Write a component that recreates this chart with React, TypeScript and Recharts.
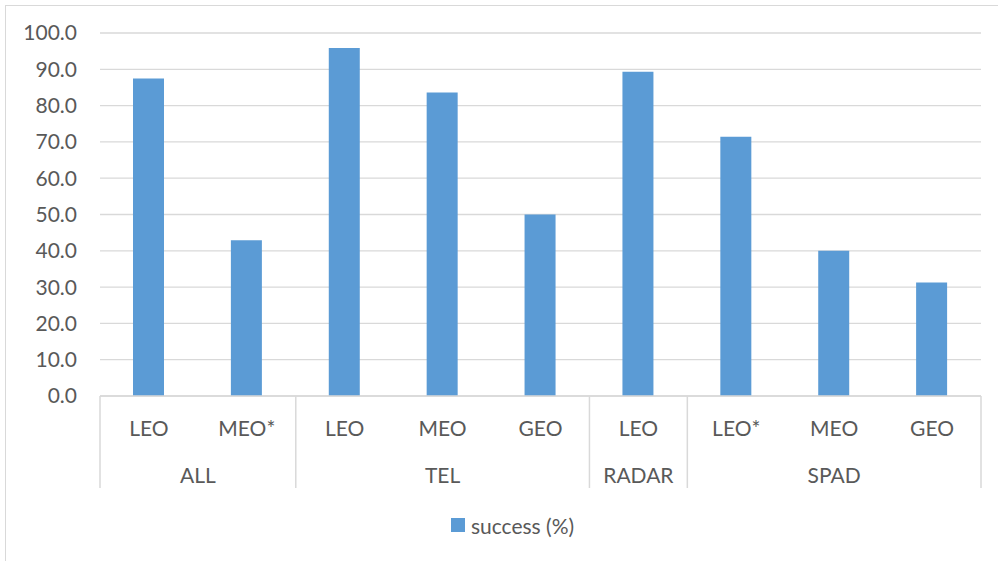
import { BarChart, Bar, XAxis, YAxis, CartesianGrid, Legend } from "recharts";

const subLabels = ["LEO", "MEO*", "LEO", "MEO", "GEO", "LEO", "LEO*", "MEO", "GEO"];
const groupLabels = ["ALL", "ALL", "TEL", "TEL", "TEL", "RADAR", "SPAD", "SPAD", "SPAD"];
const success = [87.5, 42.9, 95.9, 83.6, 50.0, 89.3, 71.4, 40.0, 31.3];
const yTicks = [0, 10, 20, 30, 40, 50, 60, 70, 80, 90, 100];

const data = subLabels.map((s, i) => ({ id: i, sub: s, group: groupLabels[i], value: success[i] }));

const FONT = "Lato, 'Noto Sans', sans-serif";
const TEXT = "#595959";
const LINE = "#d9d9d9";
const AXIS_H = 92;

// two-row category axis: sub label, group label, and separators between groups
function GroupedTick(props: any) {
  const { x, y, payload } = props;
  const i = payload.index;
  const half = payload.offset || 881 / 9 / 2;
  const isFirst = i === 0 || groupLabels[i - 1] !== groupLabels[i];
  const isLast = i === groupLabels.length - 1;
  let count = 0;
  if (isFirst) {
    for (let j = i; j < groupLabels.length && groupLabels[j] === groupLabels[i]; j++) count++;
  }
  return (
    <g>
      <text x={x} y={y + 31} textAnchor="middle" dominantBaseline="central" fill={TEXT} fontSize={21}>
        {subLabels[i]}
      </text>
      {isFirst && (
        <>
          <line x1={x - half} x2={x - half} y1={y} y2={y + AXIS_H} stroke={LINE} strokeWidth={1.5} />
          <text
            x={x - half + count * half}
            y={y + 78}
            textAnchor="middle"
            dominantBaseline="central"
            fill={TEXT}
            fontSize={21}
          >
            {groupLabels[i]}
          </text>
        </>
      )}
      {isLast && <line x1={x + half} x2={x + half} y1={y} y2={y + AXIS_H} stroke={LINE} strokeWidth={1.5} />}
    </g>
  );
}

function LegendContent() {
  return (
    <div
      style={{
        height: 73,
        boxSizing: "border-box",
        paddingTop: 25,
        paddingLeft: 44,
        display: "flex",
        justifyContent: "center",
        alignItems: "flex-start",
        fontFamily: FONT,
      }}
    >
      <div style={{ display: "flex", alignItems: "center", height: 24 }}>
        <span style={{ width: 14, height: 14, background: "#5b9bd5", marginRight: 6, display: "inline-block" }} />
        <span style={{ color: TEXT, fontSize: 21 }}>success (%)</span>
      </div>
    </div>
  );
}

export default function App() {
  return (
    <div style={{ position: "absolute", left: 0, top: 0, width: 998, height: 561, fontFamily: FONT, background: "#fff" }}>
      <div
        style={{
          position: "absolute",
          left: 5,
          top: 5,
          width: 1000,
          height: 600,
          borderLeft: `1.5px solid ${LINE}`,
          borderTop: `1.5px solid ${LINE}`,
        }}
      />
      <BarChart width={998} height={561} data={data} margin={{ top: 33, right: 17, bottom: 0, left: 0 }}>
        <CartesianGrid vertical={false} stroke={LINE} strokeWidth={1.3} />
        <YAxis
          width={100}
          domain={[0, 100]}
          ticks={yTicks}
          tickFormatter={(v: number) => v.toFixed(1)}
          axisLine={false}
          tickLine={false}
          tickSize={0}
          tickMargin={23}
          tick={{ fill: TEXT, fontSize: 21 }}
        />
        <XAxis
          dataKey="id"
          height={AXIS_H}
          interval={0}
          tickLine={false}
          tickSize={0}
          tickMargin={0}
          axisLine={{ stroke: LINE, strokeWidth: 1.5 }}
          tick={<GroupedTick />}
        />
        <Legend verticalAlign="bottom" content={<LegendContent />} />
        <Bar dataKey="value" name="success (%)" fill="#5b9bd5" barSize={31} isAnimationActive={false} />
      </BarChart>
    </div>
  );
}
